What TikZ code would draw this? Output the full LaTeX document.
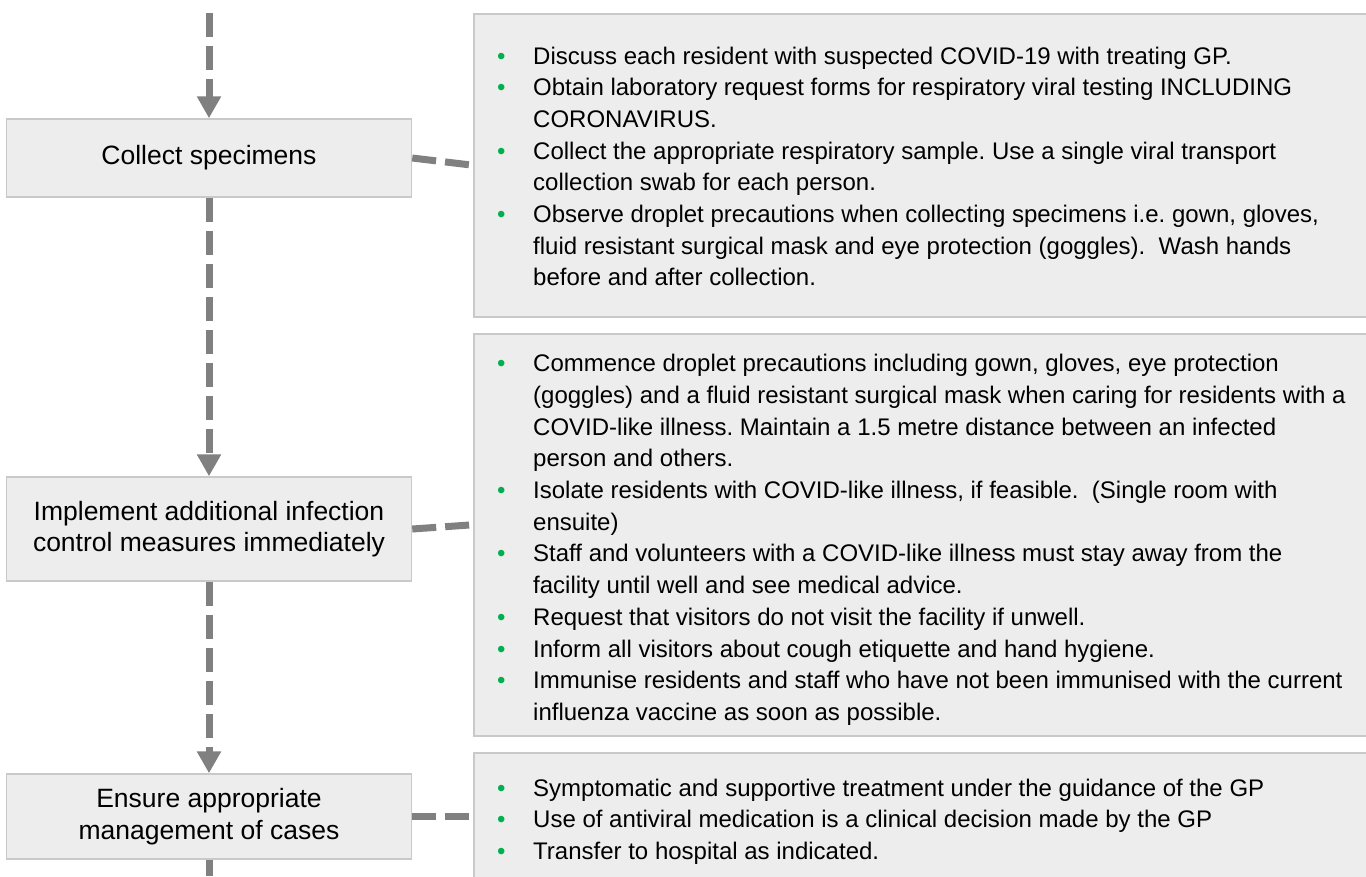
\documentclass[tikz,border=0pt]{standalone}
\usepackage{fontspec}
\setmainfont{Liberation Sans}
\usepackage{tikz}
\usetikzlibrary{arrows.meta,positioning}
\definecolor{boxfill}{HTML}{EDEDED}
\definecolor{boxline}{HTML}{C9C9C9}
\definecolor{linkgray}{HTML}{808080}
\definecolor{bulletgreen}{HTML}{00B050}
\newcommand{\bitem}[1]{\par\hangindent=36pt\hangafter=1\noindent\makebox[36pt][l]{\textcolor{bulletgreen}{\textbullet}}#1}
\tikzset{
  stepbox/.style={draw=boxline, line width=1.5pt, fill=boxfill, minimum width=405pt, align=center, font=\fontsize{26.5}{31.7}\selectfont},
  infobox/.style={draw=boxline, line width=1.5pt, fill=boxfill, minimum width=930pt, anchor=north west},
  bullets/.style={anchor=base west, inner sep=0pt, font=\fontsize{24}{31.7}\selectfont},
  flowline/.style={draw=linkgray, line width=7pt, dash pattern=on 24pt off 9pt},
  flowarrow/.style={flowline, -{Triangle[width=23pt,length=22pt]}}
}
\begin{document}
\begin{tikzpicture}[x=1pt,y=-1pt]
%%Frame
\useasboundingbox (0,0) rectangle (1366,876);
\fill[white] (0,0) rectangle (1366,876);
\clip (0,0) rectangle (1366,876);
%%Steps
\node[stepbox, minimum height=78pt] (b1) at (209,158) {Collect specimens};
\node[stepbox, minimum height=104pt] (b2) at (209,529) {Implement additional infection\\control measures immediately};
\node[stepbox, minimum height=85pt] (b3) at (209,816.5) {Ensure appropriate\\management of cases};
\coordinate (top) at (209,13);
\coordinate (bottom) at (209,876);
%%Details
\node[infobox, minimum height=303pt] (rb1) at (473,13) {};
\node[infobox, minimum height=402pt] (rb2) at (473,333) {};
\node[infobox, minimum height=150pt] (rb3) at (473,752) {};
\node[bullets] (t1) at (497,64) {\parbox[t]{860pt}{\frenchspacing
\bitem{Discuss each resident with suspected COVID-19 with treating GP.}
\bitem{Obtain laboratory request forms for respiratory viral testing INCLUDING\newline CORONAVIRUS.}
\bitem{Collect the appropriate respiratory sample. Use a single viral transport\newline collection swab for each person.}
\bitem{Observe droplet precautions when collecting specimens i.e. gown, gloves,\newline fluid resistant surgical mask and eye protection (goggles).\ \ Wash hands\newline before and after collection.}}};
\node[bullets] (t2) at (497,371.7) {\parbox[t]{860pt}{\frenchspacing
\bitem{Commence droplet precautions including gown, gloves, eye protection\newline (goggles) and a fluid resistant surgical mask when caring for residents with a\newline COVID-like illness. Maintain a 1.5 metre distance between an infected\newline person and others.}
\bitem{Isolate residents with COVID-like illness, if feasible.\ \ (Single room with\newline ensuite)}
\bitem{Staff and volunteers with a COVID-like illness must stay away from the\newline facility until well and see medical advice.}
\bitem{Request that visitors do not visit the facility if unwell.}
\bitem{Inform all visitors about cough etiquette and hand hygiene.}
\bitem{Immunise residents and staff who have not been immunised with the current\newline influenza vaccine as soon as possible.}}};
\node[bullets] (t3) at (497,796) {\parbox[t]{860pt}{\frenchspacing
\bitem{Symptomatic and supportive treatment under the guidance of the GP}
\bitem{Use of antiviral medication is a clinical decision made by the GP}
\bitem{Transfer to hospital as indicated.}}};
%%Flow
\draw[flowarrow] (top) -- (b1.north);
\draw[flowarrow] (b1.south) -- (b2.north);
\draw[flowarrow] (b2.south) -- (b3.north);
\draw[flowline] (b3.south) -- (bottom);
%%Links
\draw[flowline] (b1.east) -- (rb1.west);
\draw[flowline] (b2.east) -- ([yshift=10pt]rb2.west);
\draw[flowline] (b3.east) -- (b3.east -| rb3.west);
\end{tikzpicture}
\end{document}
